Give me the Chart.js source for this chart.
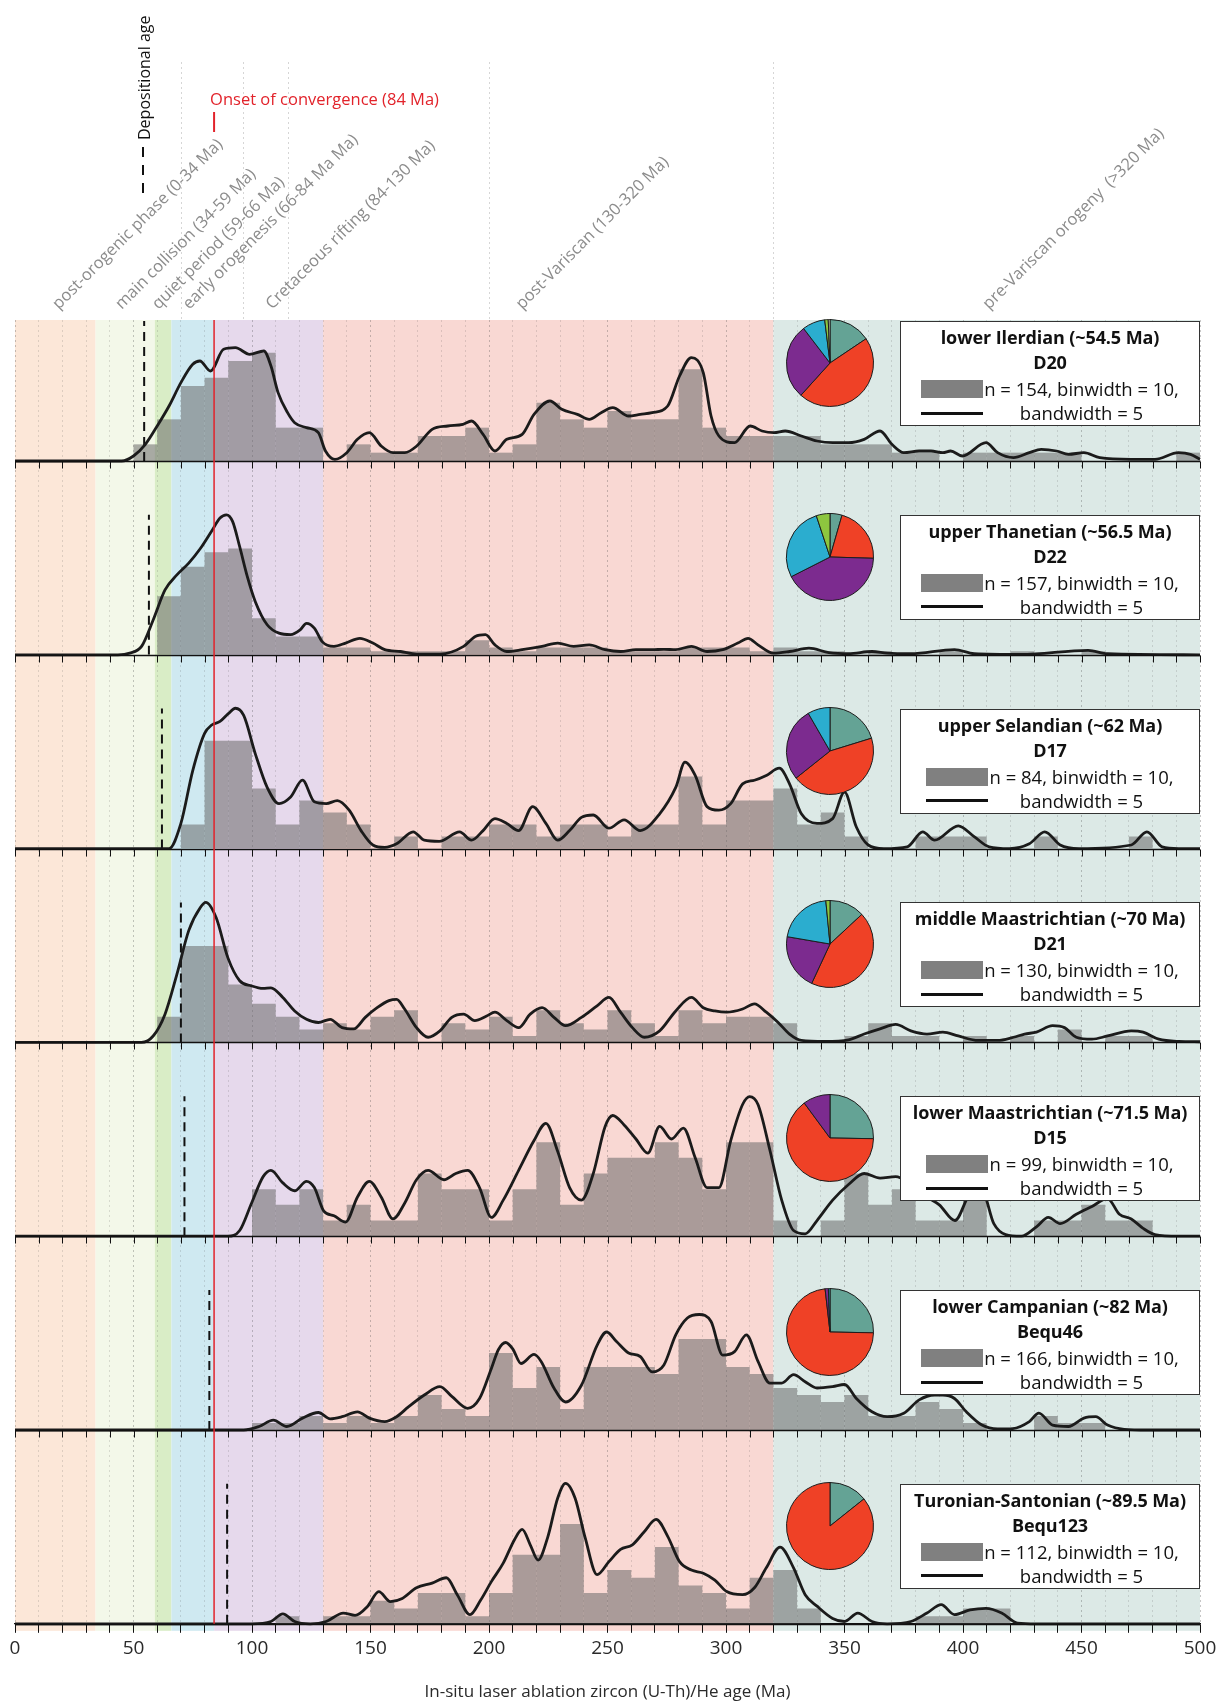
<!DOCTYPE html>
<html>
<head>
<meta charset="utf-8">
<title>Zircon (U-Th)/He age spectra</title>
<script src="https://cdn.jsdelivr.net/npm/chart.js@4.4.1/dist/chart.umd.min.js"></script>
<style>
  body { margin: 0; background: #fff; font-family: "Open Sans", sans-serif; }
  #wrap { position: relative; width: 1232px; height: 1707px; overflow: hidden; }
  #main { position: absolute; left: 0; top: 0; }
  .legend { position: absolute; box-sizing: border-box; width: 300px; height: 105px; background: #fff; border: 1.5px solid #333; color: #111; }
  .legend .ttl { position: absolute; left: 0; right: 0; text-align: center; font-weight: 700; font-size: 18px; line-height: 22px; white-space: nowrap; letter-spacing: -0.1px; }
  .legend .rows { position: absolute; left: 0; right: 0; top: 55px; display: grid; grid-template-columns: 62px auto; justify-content: center; column-gap: 1px; font-size: 18.5px; line-height: 24px; white-space: nowrap; }
  .legend .sw { width: 62px; height: 18px; background: #808080; align-self: center; }
  .legend .ln { width: 62px; height: 3px; background: #111; align-self: center; }
  .legend .bw { text-align: center; }
  .pie { position: absolute; }
</style>
</head>
<body>
<div id="wrap">
  <canvas id="main" width="1232" height="1707"></canvas>
</div>
<script>
// =============================
// DATA
// =============================
const binCenters = [5, 15, 25, 35, 45, 55, 65, 75, 85, 95, 105, 115, 125, 135, 145, 155, 165, 175, 185, 195,
  205, 215, 225, 235, 245, 255, 265, 275, 285, 295, 305, 315, 325, 335, 345, 355, 365, 375, 385, 395,
  405, 415, 425, 435, 445, 455, 465, 475, 485, 495];

const bandLabels = ['post-orogenic phase (0-34 Ma)', 'main collision (34-59 Ma)', 'quiet period (59-66 Ma)',
  'early orogenesis (66-84 Ma Ma)', 'Cretaceous rifting (84-130 Ma)', 'post-Variscan (130-320 Ma)',
  'pre-Variscan orogeny  (>320 Ma)'];
const bandStarts = [0, 34, 59, 66, 84, 130, 320];
const bandEnds = [34, 59, 66, 84, 130, 320, 500];

const sampleIds = ['D20', 'D22', 'D17', 'D21', 'D15', 'Bequ46', 'Bequ123'];
const stageLabels = ['lower Ilerdian (~54.5 Ma)', 'upper Thanetian (~56.5 Ma)', 'upper Selandian (~62 Ma)',
  'middle Maastrichtian (~70 Ma)', 'lower Maastrichtian (~71.5 Ma)', 'lower Campanian (~82 Ma)',
  'Turonian-Santonian (~89.5 Ma)'];
const depositionalAges = [54.5, 56.5, 62, 70, 71.5, 82, 89.5];
const grainCounts = [154, 157, 84, 130, 99, 166, 112];
const convergenceAge = 84;

// histogram counts, binwidth = 10 Ma
const countsD20 = [0,0,0,0,0,2,5,9,10,12, 13,4,4,0,2,1,1,3,3,4, 1,2,7,5,4,6,5,5,11,4, 3,3,3,3,2,2,2,1,1,0, 1,1,1,1,1,0,0,0,0,1];
const countsD22 = [0,0,0,0,0,0,16,24,28,29, 10,5,5,2,2,1,1,1,1,4, 2,1,2,2,2,1,1,1,2,2, 2,1,2,1,1,0,1,0,0,1, 0,0,1,0,0,1,0,0,0,0];
const countsD17 = [0,0,0,0,0,0,0,2,9,9, 5,2,4,3,2,0,1,0,1,1, 2,2,1,2,2,1,2,2,6,2, 4,4,5,2,3,1,0,0,1,1, 1,0,0,1,0,0,0,1,0,0];
const countsD21 = [0,0,0,0,0,0,4,15,15,9, 6,4,2,3,2,4,5,0,3,2, 4,1,5,3,2,5,3,1,5,3, 4,4,3,0,0,1,3,1,1,0, 1,0,1,0,2,0,1,1,0,0];
const countsD15 = [0,0,0,0,0,0,0,0,0,0, 3,2,3,1,2,1,1,4,3,3, 1,3,6,2,4,5,5,6,5,3, 6,6,1,0,1,4,2,3,1,1, 3,0,0,1,1,2,1,1,0,0];
const countsBequ46 = [0,0,0,0,0,0,0,0,0,0, 1,1,2,1,2,1,2,5,3,2, 11,6,9,3,9,9,9,8,13,13, 9,8,6,5,4,5,2,2,4,3, 1,0,0,2,1,1,0,0,0,0];
const countsBequ123 = [0,0,0,0,0,0,0,0,0,0, 0,1,0,1,1,3,2,4,4,1, 4,9,9,13,4,7,6,10,5,4, 2,6,7,2,0,0,0,0,1,1, 2,2,0,0,0,0,0,0,0,0];

// KDE (bandwidth = 5), [age, value in counts per bin]
const kdeD20 = [[0,0],[45,0],[50,0.6],[55,2.0],[60,4.2],[65,6.6],[70,9.4],[75,11.6],[78,12.0],[82.5,10.8],[88,13.4],[93,13.6],[99,12.8],[105,13.2],[108,11.4],[111,8.2],[115,5.8],[118,4.6],[123,4.0],[128,3.4],[131,1.2],[135,0.2],[140,1.0],[144.5,2.6],[149.5,3.4],[154.5,1.8],[159.5,1.0],[164.5,1.0],[169.5,1.8],[176,3.8],[182.6,4.2],[189,4.4],[192.6,4.8],[197.5,3.2],[202.5,1.2],[207.5,2.6],[214,3.2],[219,5.6],[225.7,7.2],[230.7,6.2],[237.3,5.6],[242.3,5.0],[247.3,5.8],[252.2,6.4],[258.9,5.4],[263.8,5.6],[268.8,5.8],[275.4,6.6],[280.4,10.2],[285.4,12.4],[290.4,10.6],[293.7,5.4],[297,3.0],[303.6,2.2],[310.2,4.2],[315.2,3.6],[320.2,3.4],[325,3.6],[331.8,3.0],[338.4,2.4],[345,2.2],[351.7,2.2],[358.3,2.6],[365,3.6],[370,2.0],[375,1.0],[381.5,1.2],[386.5,1.2],[391.5,1.0],[394.8,1.2],[399.7,0.6],[409.7,2.2],[414.6,1.0],[421.3,0.4],[428,1.0],[433,1.4],[439.5,1.2],[444.5,0.8],[451,1.0],[457.7,0.4],[471,0.2],[481,0.2],[490.9,1.0],[496,0.8],[500,0.2]];
const kdeD22 = [[0,0],[43.4,0],[48.4,0.45],[53.4,2.3],[58.3,9.5],[63.3,17.7],[68.3,21.8],[73.3,25],[78.2,29],[83.2,34],[86.5,37.3],[89.2,38.2],[91.8,36.4],[94.8,29.5],[98,21.4],[101.4,14.5],[106.4,8.2],[111.4,5.9],[116.3,5.5],[120.3,6.8],[123,8.6],[126.3,7.3],[129.6,3.6],[134.6,2.3],[139.5,3.2],[145.5,4.5],[151,3.2],[156,1.4],[162.7,0.9],[169.4,0.2],[179.3,0.2],[189.3,2.3],[194.2,5.0],[198.5,5.5],[202.5,2.7],[207.5,0.9],[214,1.4],[222.4,2.3],[229,3.2],[235.7,2.3],[242.3,2.7],[249,1.4],[255.5,0.9],[262,1.4],[268.8,1.4],[273.8,1.5],[278.8,1.4],[285.4,2.3],[292,0.9],[298.6,1.4],[305,3.2],[309.3,4.5],[313.5,2.7],[320,0.45],[326.8,0.9],[335,1.8],[343.4,0.6],[351.7,0.3],[361.6,0.9],[368,0.45],[378,0.3],[396.4,1.4],[404.7,0.3],[424.6,0.1],[452.8,1.2],[461,0.3],[500,0]];
const kdeD17 = [[0,0],[65,0],[70,2.1],[75,6.5],[80,9.6],[83,10.3],[86.5,10.6],[90,11.25],[93,11.7],[96.5,11.1],[101.4,7.9],[106.4,5.1],[111.4,3.75],[116.3,4.3],[121.3,5.7],[126.3,3.9],[131.3,3.75],[136,4.0],[141,3.2],[146,1.5],[151,0.3],[156,0.1],[161,0.4],[168,1.4],[172.7,0.7],[179,0.6],[187.6,1.4],[192.6,0.7],[197.5,1.5],[202.5,2.5],[207.5,2.1],[212.5,1.5],[218.4,3.5],[224,2.1],[229,0.7],[234,1.5],[239,2.6],[244,2.8],[250.6,1.7],[257,2.4],[263.8,1.5],[272,2.9],[278.8,5.1],[282.7,7.2],[287,6.1],[292,3.5],[297,3.2],[302,3.75],[307,5.4],[312,5.7],[317,6.1],[322.5,6.7],[326.8,5.4],[331.8,2.9],[338.4,2.1],[345,2.5],[350,4.7],[355,1.8],[360,0.3],[366.6,0],[376.5,0.15],[383,1.4],[388,0.7],[398,1.9],[404.7,1.0],[411,0.15],[419.6,0],[428,0.4],[434.5,1.4],[441,0.3],[449,0],[471,0.3],[477.6,1.4],[484,0.15],[491,0],[500,0]];
const kdeD21 = [[0,0],[53.4,0],[58.3,1.0],[63.3,4.4],[68.3,10.6],[73.3,17.4],[78.2,21.0],[80.5,21.8],[84.9,19.4],[89.8,13.2],[94.8,9.6],[99.8,8.8],[104.7,8.4],[108,8.5],[113,7.0],[118,4.9],[123,3.6],[128,3.1],[133,3.6],[138,2.3],[142.9,2.1],[147.8,3.9],[152.8,5.4],[157.8,6.5],[161,6.7],[164.4,5.2],[169.4,2.3],[174.3,0.8],[179.3,1.8],[184.3,3.9],[189.3,4.4],[194,3.4],[199,4.1],[202.5,4.7],[207.5,3.4],[212.5,2.3],[217.4,4.4],[222.4,5.4],[227.4,3.9],[232.3,2.6],[239,3.9],[245.6,5.7],[250.6,7.0],[255.5,4.7],[260.5,2.3],[265.5,0.8],[272,1.8],[278.8,4.9],[285.4,7.0],[290.4,5.4],[295.3,4.9],[300.3,4.7],[307,5.2],[312,6.0],[317,4.7],[322,3.1],[326.8,1.3],[331.8,0.3],[341.7,0.15],[351.7,0.4],[358.3,1.3],[365,2.1],[371.6,2.8],[378,1.8],[384.8,1.3],[391.5,1.6],[398,1.0],[406.4,0.3],[414.6,0.3],[421.3,0.8],[426,1.3],[431,1.6],[437.8,2.6],[442.8,2.3],[447.8,0.8],[454.4,0.5],[461,1.0],[471,1.8],[476,1.6],[482.6,0.5],[491,0.15],[500,0.1]];
const kdeD15 = [[0,0],[89.8,0],[94.8,0.36],[99.8,2.1],[104.7,3.8],[108,4.2],[113,3.4],[118,2.9],[123,3.5],[126.3,3.1],[130.3,1.6],[134.6,1.3],[139.5,0.9],[144.5,2.5],[149.5,3.5],[154.5,2.5],[159.5,1.1],[164.4,2.1],[169.4,3.6],[174.3,4.2],[181,3.6],[186,4.0],[191,4.2],[196,3.1],[201,1.2],[206,2.3],[212.5,4.2],[219,6.1],[224,7.2],[229,5.4],[234,3.1],[239,2.3],[244,4.0],[249,7.0],[252.2,7.7],[257,7.1],[262,6.2],[267,5.3],[272,7.0],[277,6.2],[282,6.9],[287,5.0],[292,3.1],[297,3.1],[302,6.1],[307,8.4],[310,8.9],[313.5,8.4],[318.5,5.5],[323.5,2.3],[328.5,0.36],[333.4,0.15],[338.4,1.0],[345,2.3],[351.7,3.3],[358.3,4.0],[365,3.7],[371.6,3.8],[378,3.3],[384.8,2.5],[390,2.0],[396.6,1.0],[403,2.7],[408,2.9],[413,0.8],[418,0.1],[424.6,0],[431,0.6],[436,1.2],[441,0.8],[447.8,1.4],[454.4,1.9],[461,2.4],[466,1.4],[471,1.1],[476,0.5],[481,0.1],[491,0],[500,0]];
const kdeBequ46 = [[0,0],[96.5,0],[103,0.5],[109,1.4],[114.7,0.5],[121.3,1.7],[128,2.5],[133,1.6],[138,1.9],[144.5,2.6],[149.5,1.7],[156,1.2],[161,1.9],[166,3.3],[172.7,5.0],[179.3,6.2],[184.3,4.8],[191,3.1],[196,4.5],[201,8.8],[204,11.5],[207,12.5],[210,11.6],[213.5,9.5],[219,10.8],[222,9.8],[227.4,6.0],[232.3,4.0],[239,6.4],[245.6,12.1],[249.6,14.0],[253.9,12.6],[258.9,11.0],[263.8,10.5],[268.8,8.3],[273.8,9.3],[278.8,13.6],[283.7,16.0],[288.7,16.5],[293.7,15.5],[298.6,10.7],[303.6,11.2],[308.6,13.6],[313.5,9.8],[318.5,6.7],[323.5,6.7],[328.5,7.9],[333.4,6.9],[338.4,6.0],[345,6.2],[350,6.5],[355,4.5],[361.6,2.6],[368,1.9],[375,2.4],[381.5,4.3],[388,5.0],[391.5,5.0],[396.4,4.5],[401.4,2.6],[408,0.7],[414.6,0.15],[421,0.2],[428,1.2],[432,2.4],[437.8,0.7],[444.5,0.5],[451,1.7],[456,1.9],[461,0.7],[468,0.1],[478,0],[500,0]];
const kdeBequ123 = [[0,0],[99.8,0],[108,0.3],[113,1.3],[118,0.3],[124.6,0],[131.3,0.3],[138.5,1.4],[143.5,1.1],[148.8,2.3],[153.5,4.2],[158.4,2.9],[163.4,3.3],[169.4,4.7],[176,5.3],[182,6.0],[186.6,3.8],[192,1.2],[196.5,3.1],[201,5.5],[206,7.9],[210.8,11.0],[214,12.3],[217.4,10.3],[220.7,8.3],[224.7,11.2],[229,16.4],[232.3,18.3],[236.3,16.4],[240.6,11.2],[245.6,6.4],[250.6,8.1],[255.5,9.7],[260.5,10.3],[265.5,12.0],[270.5,13.6],[275.4,11.4],[280.4,8.1],[285.4,7.0],[290.4,6.6],[295.3,5.7],[300.3,4.2],[307,3.8],[312,4.7],[317,7.3],[322.8,10.0],[328.5,7.3],[333.4,3.8],[338.4,2.3],[345,0.7],[350,0.3],[355.6,1.4],[361.6,0.3],[368,0],[378,0.3],[384.8,1.4],[390.8,2.5],[396.4,1.2],[403,1.8],[409.7,2.0],[416.3,1.4],[423,0.1],[431,0],[500,0]];

// pie charts: grains per tectonic stage
const pieGroups = ['pre-Variscan', 'post-Variscan', 'Cretaceous rifting', 'early orogenesis', 'quiet period', 'main collision'];
const pieD20 = [24, 71, 43, 13, 2, 1];
const pieD22 = [7, 33, 66, 43, 8, 0];
const pieD17 = [17, 37, 23, 7, 0, 0];
const pieD21 = [17, 57, 27, 27, 2, 0];
const pieD15 = [25, 64, 10, 0, 0, 0];
const pieBequ46 = [42, 121, 2, 1, 0, 0];
const pieBequ123 = [16, 96, 0, 0, 0, 0];

// count value reached 140 px above each baseline
const panelTopCounts = [16.8, 38.2, 11.67, 21.8, 8.93, 20, 18.25];

// =============================
// LAYOUT / STYLE
// =============================
const W = 1232, H = 1707;
const PLOT_TOP = 320, FIRST_SLOT = 141, SLOT = 193.8, REF_H = 140;
const PLOT_BOTTOM = PLOT_TOP + FIRST_SLOT + 6 * SLOT;
const labelAnchorAges = [18.5, 45, 60.5, 73.5, 108.5, 214, 411];
const guideAges = [70, 96, 115, 200, 320];
const bandColors = ['#fce7d8', '#f3f8e9', '#d9edc6', '#cfe9f1', '#e6d9ec', '#f9d8d3', '#dce9e6'];
const pieColors = ['#64a395', '#ef4126', '#7c2b8f', '#2badcf', '#8dc63f', '#eef3c9'];
const FONT = '"Open Sans", sans-serif';

const histograms = [countsD20, countsD22, countsD17, countsD21, countsD15, countsBequ46, countsBequ123];
const kdes = [kdeD20, kdeD22, kdeD17, kdeD21, kdeD15, kdeBequ46, kdeBequ123];
const pies = [pieD20, pieD22, pieD17, pieD21, pieD15, pieBequ46, pieBequ123];

// =============================
// DECORATION PLUGIN
// =============================
const decorPlugin = {
  id: 'decor',
  beforeDraw(chart) {
    const { ctx, chartArea: area, scales: { x } } = chart;
    ctx.save();
    bandStarts.forEach((s, i) => {
      const x0 = x.getPixelForValue(s);
      const x1 = x.getPixelForValue(bandEnds[i]);
      ctx.fillStyle = bandColors[i];
      ctx.fillRect(x0, area.top, x1 - x0, area.bottom - area.top + 7);
    });
    ctx.strokeStyle = 'rgba(0,0,0,0.16)';
    ctx.lineWidth = 1;
    ctx.setLineDash([2, 3]);
    guideAges.forEach(a => {
      const px = Math.round(x.getPixelForValue(a)) + 0.5;
      ctx.beginPath();
      ctx.moveTo(px, 62);
      ctx.lineTo(px, area.top);
      ctx.stroke();
    });
    ctx.restore();
  },
  afterDatasetsDraw(chart) {
    const { ctx, chartArea: area, scales } = chart;
    const x = scales.x;
    ctx.save();
    sampleIds.forEach((id, i) => {
      const y = Math.round(scales['y' + i].getPixelForValue(0)) + 0.5;
      ctx.strokeStyle = '#111';
      ctx.lineWidth = 1.3;
      ctx.beginPath();
      ctx.moveTo(area.left, y);
      ctx.lineTo(area.right, y);
      ctx.stroke();
      if (i < sampleIds.length - 1) {
        ctx.lineWidth = 1;
        x.ticks.forEach(t => {
          const px = Math.round(x.getPixelForValue(t.value)) + 0.5;
          ctx.beginPath();
          ctx.moveTo(px, y);
          ctx.lineTo(px, y + 7);
          ctx.stroke();
        });
      }
    });
    // onset of convergence
    const xr = x.getPixelForValue(convergenceAge);
    ctx.strokeStyle = '#e2232b';
    ctx.lineWidth = 1.5;
    ctx.beginPath();
    ctx.moveTo(xr, area.top);
    ctx.lineTo(xr, area.bottom);
    ctx.stroke();
    ctx.restore();
  },
  afterDraw(chart) {
    const { ctx, scales: { x } } = chart;
    ctx.save();
    // rotated stage labels
    ctx.font = '16.5px ' + FONT;
    ctx.fillStyle = '#8c8c8c';
    ctx.textAlign = 'left';
    ctx.textBaseline = 'alphabetic';
    bandLabels.forEach((txt, i) => {
      ctx.save();
      ctx.translate(x.getPixelForValue(labelAnchorAges[i]), 310);
      ctx.rotate(-Math.PI / 4);
      ctx.fillText(txt, 0, 0);
      ctx.restore();
    });
    // depositional age key
    ctx.font = '16px ' + FONT;
    ctx.fillStyle = '#111';
    ctx.textBaseline = 'middle';
    ctx.save();
    ctx.translate(145, 140);
    ctx.rotate(-Math.PI / 2);
    ctx.fillText('Depositional age', 0, 0);
    ctx.restore();
    ctx.strokeStyle = '#111';
    ctx.lineWidth = 2;
    ctx.setLineDash([10, 8]);
    ctx.beginPath();
    ctx.moveTo(143, 147);
    ctx.lineTo(143, 196);
    ctx.stroke();
    ctx.setLineDash([]);
    // onset of convergence key
    const xr = x.getPixelForValue(convergenceAge);
    ctx.font = '16.5px ' + FONT;
    ctx.fillStyle = '#e2232b';
    ctx.fillText('Onset of convergence (84 Ma)', xr - 4, 100);
    ctx.strokeStyle = '#e2232b';
    ctx.beginPath();
    ctx.moveTo(xr, 112);
    ctx.lineTo(xr, 132);
    ctx.stroke();
    ctx.restore();
  }
};

// =============================
// MAIN CHART
// =============================
function buildScales() {
  const scales = {
    x: {
      type: 'linear',
      position: 'bottom',
      min: 0,
      max: 500,
      offset: false,
      afterFit: s => { s.height = H - PLOT_BOTTOM; },
      ticks: {
        stepSize: 10,
        autoSkip: false,
        maxRotation: 0,
        padding: 4,
        color: '#2a2a2a',
        font: { family: FONT, size: 19 },
        callback: v => (v % 50 === 0 ? String(v) : '')
      },
      grid: {
        offset: false,
        color: c => (c.tick && c.tick.value % 50 === 0 ? 'rgba(70,70,70,0.30)' : 'rgba(70,70,70,0.17)'),
        lineWidth: 1,
        tickLength: 9,
        tickColor: '#111',
        tickWidth: 1
      },
      border: { display: true, color: '#111', width: 1.3, dash: [2, 3] },
      title: {
        display: true,
        text: 'In-situ laser ablation zircon (U-Th)/He age (Ma)',
        color: '#2a2a2a',
        font: { family: FONT, size: 17 },
        padding: { top: 0, bottom: 5 }
      }
    }
  };
  sampleIds.forEach((id, i) => {
    const slot = i === 0 ? FIRST_SLOT : SLOT;
    scales['y' + i] = {
      type: 'linear',
      axis: 'y',
      position: 'left',
      stack: 'panels',
      stackWeight: slot,
      weight: sampleIds.length - i,
      display: false,
      min: 0,
      max: panelTopCounts[i] * slot / REF_H
    };
  });
  return scales;
}

function buildDatasets() {
  const datasets = [];
  sampleIds.forEach((id, i) => {
    const yAxisID = 'y' + i;
    datasets.push({
      type: 'bar',
      label: id + ' histogram',
      data: binCenters.map((c, k) => ({ x: c, y: histograms[i][k] })),
      xAxisID: 'x',
      yAxisID,
      backgroundColor: 'rgba(105,105,105,0.55)',
      borderWidth: 0,
      barPercentage: 1,
      categoryPercentage: 1,
      grouped: false,
      inflateAmount: 0,
      order: 3
    });
    datasets.push({
      type: 'line',
      label: id + ' depositional age',
      data: [{ x: depositionalAges[i], y: 0 }, { x: depositionalAges[i], y: panelTopCounts[i] }],
      xAxisID: 'x',
      yAxisID,
      borderColor: '#111',
      borderWidth: 2,
      borderDash: [9, 6],
      pointRadius: 0,
      fill: false,
      order: 2
    });
    datasets.push({
      type: 'line',
      label: id + ' KDE',
      data: kdes[i].map(([a, v]) => ({ x: a, y: v })),
      xAxisID: 'x',
      yAxisID,
      borderColor: '#1b1b1b',
      borderWidth: 2.8,
      pointRadius: 0,
      cubicInterpolationMode: 'monotone',
      fill: false,
      clip: 4,
      order: 1
    });
  });
  return datasets;
}

const chart = new Chart(document.getElementById('main'), {
  type: 'bar',
  data: { datasets: buildDatasets() },
  options: {
    responsive: false,
    animation: false,
    devicePixelRatio: 1,
    events: [],
    layout: { padding: { top: PLOT_TOP, left: 15, right: 32, bottom: 0 } },
    plugins: { legend: { display: false }, tooltip: { enabled: false } },
    scales: buildScales()
  },
  plugins: [decorPlugin]
});

// =============================
// LEGENDS + PIES
// =============================
function placeOverlays(mainChart) {
  const wrap = document.getElementById('wrap');
  const right = mainChart.chartArea.right;
  sampleIds.forEach((id, i) => {
    const base = mainChart.scales['y' + i].getPixelForValue(0);

    const box = document.createElement('div');
    box.className = 'legend';
    box.style.left = (right - 300) + 'px';
    box.style.top = (base - 140) + 'px';
    box.innerHTML =
      '<div class="ttl" style="top:4px">' + stageLabels[i] + '</div>' +
      '<div class="ttl" style="top:29px">' + id + '</div>' +
      '<div class="rows"><div class="sw"></div><div>n = ' + grainCounts[i] + ', binwidth = 10,</div>' +
      '<div class="ln"></div><div class="bw">bandwidth = 5</div></div>';
    wrap.appendChild(box);

    const c = document.createElement('canvas');
    c.width = 90;
    c.height = 90;
    c.className = 'pie';
    c.style.left = (right - 370 - 45) + 'px';
    c.style.top = (base - 98 - 45) + 'px';
    wrap.appendChild(c);
    new Chart(c, {
      type: 'pie',
      data: {
        labels: pieGroups,
        datasets: [{ data: pies[i], backgroundColor: pieColors, borderColor: '#1c1c1c', borderWidth: 1 }]
      },
      options: {
        responsive: false,
        animation: false,
        devicePixelRatio: 1,
        events: [],
        layout: { padding: 1 },
        plugins: { legend: { display: false }, tooltip: { enabled: false } }
      }
    });
  });
}

placeOverlays(chart);
</script>
</body>
</html>
